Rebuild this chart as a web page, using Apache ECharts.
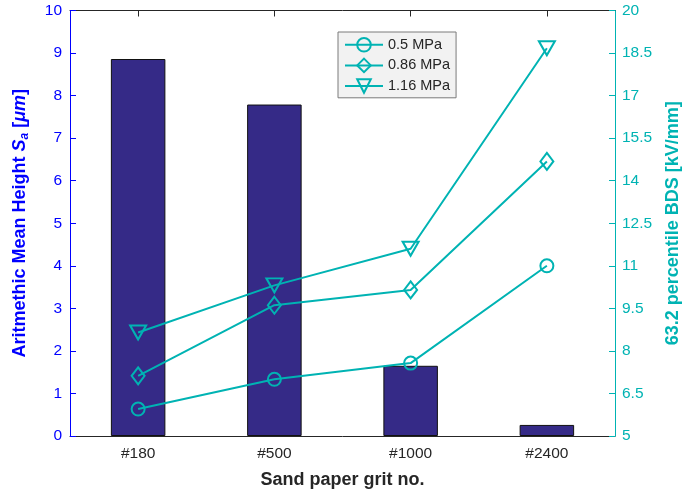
<!DOCTYPE html>
<html>
<head>
<meta charset="utf-8">
<script src="https://cdn.jsdelivr.net/npm/echarts@6/dist/echarts.min.js"></script>
<style>
  html, body { margin: 0; padding: 0; background: #fff; }
  #chart { width: 696px; height: 494px; }
</style>
</head>
<body>
<div id="chart"></div>
<script>
// Sand paper grits on the x axis
const grits = ['#180', '#500', '#1000', '#2400'];
// Arithmetic mean height Sa [µm] (bars, left axis)
const meanHeight = [8.86, 7.79, 1.65, 0.26];
// 63.2 percentile BDS [kV/mm] at each pressure (lines, right axis)
const bds05 = [5.95, 7.0, 7.57, 11.0];
const bds086 = [7.12, 9.61, 10.15, 14.68];
const bds116 = [8.65, 10.31, 11.6, 18.67];
const seriesNames = ['0.5 MPa', '0.86 MPa', '1.16 MPa'];
// Tick labels of the right axis
const rightTicks = [5, 6.5, 8, 9.5, 11, 12.5, 14, 15.5, 17, 18.5, 20];

const TEAL = '#00b3b3';
const BLUE = '#0000ff';
const BAR = '#352a87';
const DARK = '#262626';
const FONT = '"Liberation Sans", Arial, sans-serif';
const TICK_FS = 15.5;
const TITLE_FS = 18;

const chart = echarts.init(document.getElementById('chart'), null, { renderer: 'canvas' });

function lineSeries(name, data, symbol, size, rotate) {
  return {
    name: name,
    type: 'line',
    xAxisIndex: 0,
    yAxisIndex: 1,
    data: data,
    symbol: symbol,
    symbolSize: size,
    symbolRotate: rotate || 0,
    showAllSymbol: true,
    lineStyle: { color: TEAL, width: 2 },
    itemStyle: { color: 'rgba(0,0,0,0)', borderColor: TEAL, borderWidth: 2 },
    z: 5
  };
}

chart.setOption({
  animation: false,
  textStyle: { fontFamily: FONT },
  grid: { left: 70, right: 81, top: 10.5, bottom: 57 },
  legend: {
    data: seriesNames,
    orient: 'vertical',
    left: 338,
    top: 32,
    padding: [5, 6, 4, 6],
    itemGap: 5,
    itemWidth: 38,
    itemHeight: 17,
    backgroundColor: '#f2f2f2',
    borderColor: '#7a7a7a',
    borderWidth: 1,
    borderRadius: 0,
    textStyle: { fontSize: 14.5, color: DARK, fontFamily: FONT }
  },
  xAxis: [
    {
      type: 'category',
      data: grits,
      position: 'bottom',
      boundaryGap: true,
      name: 'Sand paper grit no.',
      nameLocation: 'middle',
      nameGap: 35,
      nameTextStyle: { fontSize: TITLE_FS, fontWeight: 'bold', color: DARK, fontFamily: FONT },
      axisLine: { show: true, lineStyle: { color: DARK, width: 1 } },
      axisTick: { show: true, inside: true, alignWithLabel: true, length: 6, lineStyle: { color: DARK } },
      axisLabel: { fontSize: TICK_FS, color: DARK, margin: 10, fontFamily: FONT },
      splitLine: { show: false }
    },
    {
      type: 'category',
      data: grits,
      position: 'top',
      boundaryGap: true,
      axisLine: { show: true, lineStyle: { color: DARK, width: 1 } },
      axisTick: { show: true, inside: true, alignWithLabel: true, length: 6, lineStyle: { color: DARK } },
      axisLabel: { show: false },
      splitLine: { show: false }
    }
  ],
  yAxis: [
    {
      type: 'value',
      position: 'left',
      min: 0,
      max: 10,
      interval: 1,
      name: 'Aritmethic Mean Height {i|S}{sub|a} [{i|μm}]',
      nameLocation: 'middle',
      nameRotate: 90,
      nameGap: 39,
      nameTextStyle: {
        fontSize: TITLE_FS, fontWeight: 'bold', color: BLUE, fontFamily: FONT,
        rich: {
          i: { fontSize: TITLE_FS, fontWeight: 'bold', fontStyle: 'italic', color: BLUE, fontFamily: FONT },
          sub: { fontSize: 12, fontWeight: 'bold', fontStyle: 'italic', color: BLUE, fontFamily: FONT, padding: [9, 0, 0, 0] }
        }
      },
      axisLine: { show: true, lineStyle: { color: BLUE, width: 1 } },
      axisTick: { show: true, inside: true, length: 6, lineStyle: { color: BLUE } },
      axisLabel: { fontSize: TICK_FS, color: BLUE, margin: 8, fontFamily: FONT },
      splitLine: { show: false }
    },
    {
      type: 'value',
      position: 'right',
      min: 5,
      max: 20,
      name: '63.2 percentile BDS [kV/mm]',
      nameLocation: 'middle',
      nameRotate: 90,
      nameGap: 49,
      nameTextStyle: { fontSize: TITLE_FS, fontWeight: 'bold', color: TEAL, fontFamily: FONT },
      axisLine: { show: true, lineStyle: { color: TEAL, width: 1 } },
      axisTick: { show: true, inside: true, length: 6, lineStyle: { color: TEAL }, customValues: rightTicks },
      axisLabel: { fontSize: TICK_FS, color: TEAL, margin: 7, fontFamily: FONT, customValues: rightTicks },
      splitLine: { show: false }
    }
  ],
  series: [
    {
      name: 'Sa',
      type: 'bar',
      xAxisIndex: 0,
      yAxisIndex: 0,
      data: meanHeight,
      barWidth: '40%',
      itemStyle: { color: BAR, borderColor: '#111111', borderWidth: 1 },
      z: 2
    },
    lineSeries(seriesNames[0], bds05, 'circle', 13),
    lineSeries(seriesNames[1], bds086, 'diamond', [13, 17]),
    lineSeries(seriesNames[2], bds116, 'triangle', [16, 14], 180)
  ]
});
</script>
</body>
</html>
